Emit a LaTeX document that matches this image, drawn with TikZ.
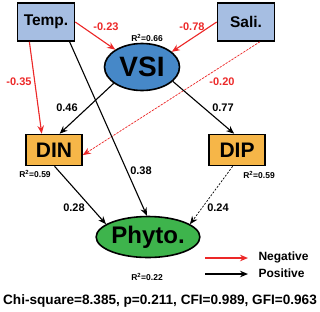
\documentclass[tikz,border=0pt]{standalone}
\usepackage{fontspec}
\setmainfont{Liberation Sans}
\usetikzlibrary{shapes.geometric,arrows.meta}

\definecolor{boxblue}{RGB}{166,190,226}
\definecolor{vsiblue}{RGB}{70,136,200}
\definecolor{nutorange}{RGB}{246,182,72}
\definecolor{phygreen}{RGB}{62,180,76}
\definecolor{negred}{RGB}{236,40,40}

\begin{document}
\begin{tikzpicture}[x=1pt,y=-1pt,font=\bfseries,
  drv/.style={draw,line width=1.6pt,fill=boxblue,minimum width=57pt,minimum height=38pt,inner sep=0pt},
  nut/.style={draw,line width=1.6pt,fill=nutorange,minimum width=56pt,minimum height=31pt,inner sep=0pt},
  oval/.style={draw,ellipse,line width=1.6pt,inner sep=0pt},
  posarr/.style={-{Stealth[length=8pt,width=6.5pt]},line width=1.1pt},
  negarr/.style={posarr,draw=negred,fill=negred},
  coef/.style={font=\bfseries\fontsize{11}{13}\selectfont},
  ncoef/.style={coef,text=negred},
  rsq/.style={font=\bfseries\fontsize{8.5}{10}\selectfont}]
  \useasboundingbox (0,0) rectangle (320,311);
  % Boxes
  \node[drv] (temp) at (46,22) {\fontsize{15.5}{18}\selectfont Temp.};
  \node[drv] (sali) at (246,22) {\fontsize{15.5}{18}\selectfont Sali.};
  \node[oval,fill=vsiblue,minimum width=75pt,minimum height=47pt] (vsi) at (142,67) {\fontsize{28}{30}\selectfont VSI};
  \node[nut] (din) at (54,150) {\fontsize{21}{24}\selectfont DIN};
  \node[nut] (dip) at (237,150) {\fontsize{21}{24}\selectfont DIP};
  \node[oval,fill=phygreen,minimum width=90pt,minimum height=41pt] (phyto) at (148,237) {\fontsize{24}{26}\selectfont Phyto.};
  % R2
  \node[rsq] (rvsi) at (147,38) {R\textsuperscript{2}=0.66};
  \node[rsq] (rdin) at (35,174) {R\textsuperscript{2}=0.59};
  \node[rsq] (rdip) at (259,175) {R\textsuperscript{2}=0.59};
  \node[rsq] (rphy) at (147,277) {R\textsuperscript{2}=0.22};
  % Paths
  \draw[negarr] (temp.east) -- (vsi.147);
  \draw[negarr] (sali.west) -- (vsi.27);
  \draw[negarr] (temp.230) -- (din.127);
  \draw[negarr,dash pattern=on 2pt off 1.5pt,line width=0.7pt] (sali.-55) -- (din.-10);
  \draw[posarr] (temp.-40) -- (phyto.93);
  \draw[posarr] (vsi.210) -- (din.71);
  \draw[posarr] (vsi.-25) -- (dip.100);
  \draw[posarr] (din.-88) -- (phyto.163);
  \draw[posarr,dash pattern=on 2pt off 1.5pt,line width=0.7pt] (dip.-105) -- (phyto.17);
  % Coefficients
  \node[ncoef] (c1) at (106,27) {-0.23};
  \node[ncoef] (c2) at (192,27) {-0.78};
  \node[ncoef] (c3) at (19,82) {-0.35};
  \node[ncoef] (c4) at (222,82) {-0.20};
  \node[coef] (c5) at (67,108) {0.46};
  \node[coef] (c6) at (223,108) {0.77};
  \node[coef] (c7) at (141,171) {0.38};
  \node[coef] (c8) at (74,208) {0.28};
  \node[coef] (c9) at (218,208) {0.24};
  % Legend
  \coordinate (ln1) at (205,258);
  \coordinate (ln2) at (248,258);
  \coordinate (lp1) at (205,274);
  \coordinate (lp2) at (248,274);
  \draw[negarr,line width=1.5pt] (ln1) -- (ln2);
  \draw[posarr,line width=1.5pt] (lp1) -- (lp2);
  \node[anchor=west,font=\bfseries\fontsize{12}{14}\selectfont] (lneg) at (255,257) {Negative};
  \node[anchor=west,font=\bfseries\fontsize{12}{14}\selectfont] (lpos) at (255,273) {Positive};
  \node[font=\bfseries\fontsize{13.6}{16}\selectfont] (fit) at (160,301) {Chi-square=8.385, p=0.211, CFI=0.989, GFI=0.963};
\end{tikzpicture}
\end{document}
